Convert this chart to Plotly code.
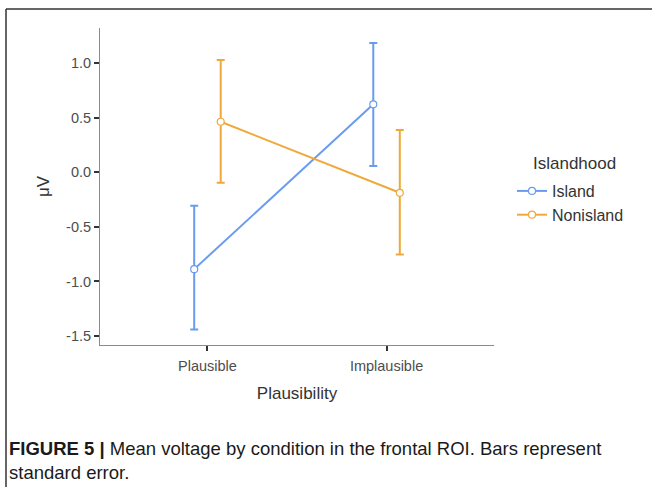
import plotly.graph_objects as go

categories = ["Plausible", "Implausible"]
groups = ["Island", "Nonisland"]
island_mean = [-0.887, 0.624]
island_upper = [-0.306, 1.186]
island_lower = [-1.440, 0.058]
nonisland_mean = [0.464, -0.187]
nonisland_upper = [1.030, 0.388]
nonisland_lower = [-0.095, -0.752]
y_ticks = [-1.5, -1.0, -0.5, 0.0, 0.5, 1.0]

colors = {"Island": "#6A9BEE", "Nonisland": "#EFA93A"}
dodge = {"Island": -0.074, "Nonisland": 0.074}
series = {
    "Island": (island_mean, island_upper, island_lower),
    "Nonisland": (nonisland_mean, nonisland_upper, nonisland_lower),
}

fig = go.Figure()
for g in groups:
    mean, up, lo = series[g]
    xs = [i + dodge[g] for i in range(len(categories))]
    fig.add_trace(go.Scatter(
        x=xs, y=mean, name=g, mode="lines+markers",
        line=dict(color=colors[g], width=2),
        marker=dict(symbol="circle", size=7, color="white",
                    line=dict(color=colors[g], width=1.2)),
        error_y=dict(type="data", symmetric=False,
                     array=[u - m for u, m in zip(up, mean)],
                     arrayminus=[m - l for m, l in zip(mean, lo)],
                     color=colors[g], thickness=2, width=4),
    ))

PL, PR, PT, PB = 100, 494, 28, 345
W, H = 652, 487
def px(x):
    return (x - PL) / (PR - PL)
def py(y):
    return (PB - y) / (PB - PT)

FONT = "Liberation Sans, Arial, sans-serif"
fig.update_layout(
    width=W, height=H,
    margin=dict(l=PL, r=W - PR, t=PT, b=H - PB, pad=0),
    paper_bgcolor="white", plot_bgcolor="white",
    font=dict(family=FONT, color="#4d4d4d"),
    xaxis=dict(range=[-0.6, 1.6], tickvals=list(range(len(categories))),
               ticktext=categories, showgrid=False, zeroline=False,
               showline=True, linecolor="#8a8a8a", linewidth=1,
               ticks="outside", ticklen=5, tickcolor="#333", tickwidth=1.5,
               ticklabelstandoff=3,
               tickfont=dict(size=14.5, color="#4d4d4d"),
               title=dict(text="Plausibility", font=dict(size=17, color="#333"), standoff=13)),
    yaxis=dict(range=[-1.5825, 1.3236], tickvals=y_ticks,
               ticktext=[f"{v:.1f}" for v in y_ticks], showgrid=False, zeroline=False,
               showline=True, linecolor="#8a8a8a", linewidth=1,
               ticks="outside", ticklen=5, tickcolor="#333", tickwidth=1.5,
               tickfont=dict(size=14.5, color="#4d4d4d"),
               title=dict(text="μV", font=dict(size=17, color="#333"), standoff=12)),
    legend=dict(font=dict(size=16, color="#333"), x=px(512), y=py(174),
                xanchor="left", yanchor="top", bgcolor="rgba(0,0,0,0)",
                itemwidth=30, tracegroupgap=0),
    shapes=[
        dict(type="line", xref="paper", yref="paper", x0=px(6), x1=px(6),
             y0=py(9), y1=py(H + 5), line=dict(color="#333", width=1.5)),
        dict(type="line", xref="paper", yref="paper", x0=px(6), x1=px(W + 5),
             y0=py(9), y1=py(9), line=dict(color="#333", width=1.5)),
    ],
    annotations=[
        dict(xref="paper", yref="paper", x=px(531), y=py(163), xanchor="left", yanchor="middle",
             showarrow=False, text="Islandhood", font=dict(size=17, color="#333", family=FONT)),
        dict(xref="paper", yref="paper", x=px(7), y=py(436), xanchor="left", yanchor="top",
             align="left", showarrow=False,
             text="<b>FIGURE 5 |</b> Mean voltage by condition in the frontal ROI. Bars represent<br>standard error.",
             font=dict(size=18.5, color="#1a1a1a", family=FONT)),
    ],
)

fig.write_html("out.html", config={"displayModeBar": False},
               post_script="document.body.style.margin='0';document.body.style.padding='0';")
